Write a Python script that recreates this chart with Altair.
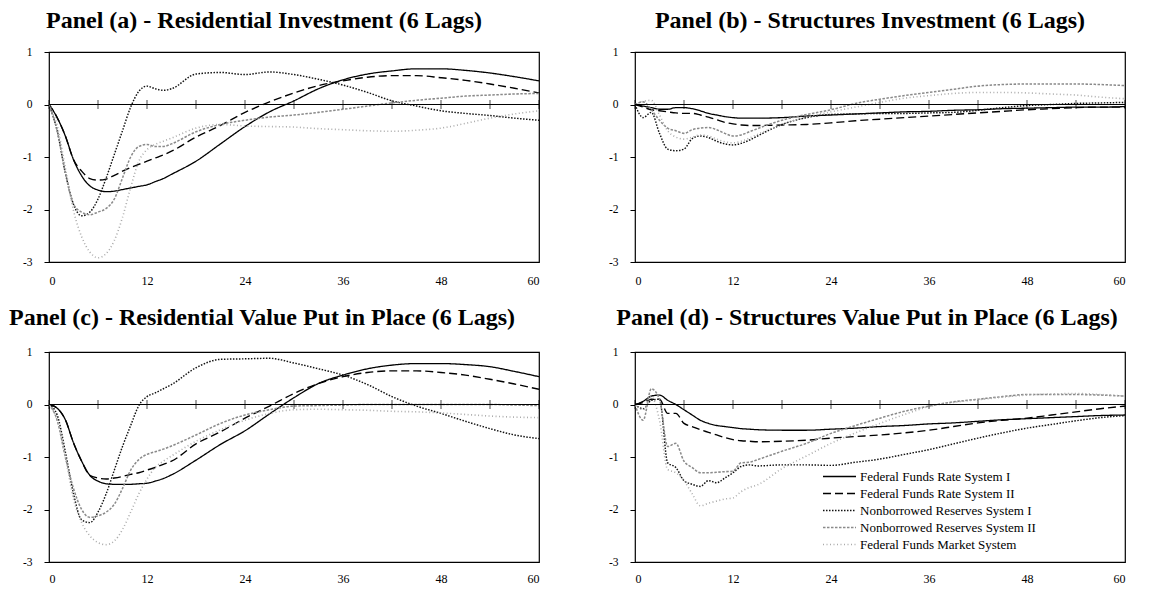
import altair as alt
import pandas as pd

LAGS = [0, 1, 2, 3, 4, 5, 6, 7, 8, 9, 10, 11, 12, 13, 14, 15,
        18, 21, 24, 27, 30, 33, 36, 39, 42, 45, 48, 51, 54, 57, 60]

SERIES = [
    "Federal Funds Rate System I",
    "Federal Funds Rate System II",
    "Nonborrowed Reserves System I",
    "Nonborrowed Reserves System II",
    "Federal Funds Market System",
]

TITLES = [
    "Panel (a) - Residential Investment (6 Lags)",
    "Panel (b) - Structures Investment (6 Lags)",
    "Panel (c) - Residential Value Put in Place (6 Lags)",
    "Panel (d) - Structures Value Put in Place (6 Lags)",
]

TICK_LAGS = [0, 6, 12, 18, 24, 30, 36, 42, 48, 54, 60]
LABEL_LAGS = [0, 12, 24, 36, 48, 60]
Y_TICKS = [-3, -2, -1, 0, 1]

# Panel (a) - Residential Investment
A_FFR1 = [0, -0.25, -0.6, -1.05, -1.36, -1.55, -1.63, -1.66, -1.65, -1.62, -1.59, -1.56, -1.53, -1.47, -1.41, -1.33,
          -1.08, -0.75, -0.42, -0.14, 0.07, 0.3, 0.47, 0.58, 0.64, 0.68, 0.68, 0.65, 0.6, 0.53, 0.45]
A_FFR2 = [0, -0.25, -0.6, -1.05, -1.27, -1.41, -1.44, -1.42, -1.35, -1.27, -1.2, -1.14, -1.08, -1.02, -0.96, -0.89,
          -0.62, -0.4, -0.15, 0.05, 0.22, 0.36, 0.45, 0.52, 0.55, 0.55, 0.51, 0.46, 0.39, 0.31, 0.22]
A_NBR1 = [0, -0.5, -1.3, -1.9, -2.12, -2.05, -1.8, -1.4, -0.95, -0.5, -0.05, 0.25, 0.35, 0.3, 0.27, 0.3,
          0.58, 0.61, 0.57, 0.62, 0.57, 0.48, 0.37, 0.23, 0.07, -0.03, -0.12, -0.17, -0.21, -0.26, -0.3]
A_NBR2 = [0, -0.5, -1.3, -1.9, -2.05, -2.1, -2.05, -1.98, -1.8, -1.4, -1.0, -0.8, -0.76, -0.8, -0.8, -0.75,
          -0.52, -0.38, -0.3, -0.24, -0.2, -0.15, -0.09, -0.03, 0.03, 0.08, 0.12, 0.16, 0.18, 0.2, 0.21]
A_FFM = [0, -0.4, -1.2, -2.02, -2.52, -2.81, -2.92, -2.84, -2.59, -2.15, -1.58, -1.08, -0.86, -0.76, -0.7, -0.64,
         -0.45, -0.38, -0.41, -0.42, -0.43, -0.46, -0.48, -0.5, -0.51, -0.49, -0.45, -0.36, -0.26, -0.18, -0.12]

# Panel (b) - Structures Investment
B_FFR1 = [0, -0.03, -0.06, -0.09, -0.09, -0.06, -0.06, -0.08, -0.12, -0.17, -0.2, -0.23, -0.25, -0.26, -0.26, -0.26,
          -0.25, -0.22, -0.2, -0.18, -0.16, -0.14, -0.13, -0.11, -0.1, -0.08, -0.07, -0.06, -0.05, -0.05, -0.04]
B_FFR2 = [0, -0.05, -0.1, -0.12, -0.14, -0.16, -0.17, -0.17, -0.2, -0.24, -0.29, -0.34, -0.37, -0.39, -0.4, -0.4,
          -0.39, -0.38, -0.35, -0.31, -0.28, -0.25, -0.22, -0.19, -0.16, -0.13, -0.1, -0.08, -0.06, -0.05, -0.05]
B_NBR1 = [0, -0.25, -0.15, -0.55, -0.85, -0.88, -0.85, -0.65, -0.6, -0.63, -0.7, -0.75, -0.77, -0.74, -0.68, -0.6,
          -0.38, -0.25, -0.19, -0.18, -0.17, -0.17, -0.16, -0.15, -0.11, -0.06, -0.02, 0.0, 0.02, 0.03, 0.04]
B_NBR2 = [0, 0.05, -0.1, -0.3, -0.45, -0.5, -0.55, -0.48, -0.45, -0.44, -0.48, -0.55, -0.6, -0.58, -0.52, -0.46,
          -0.3, -0.19, -0.1, 0.02, 0.1, 0.17, 0.23, 0.29, 0.35, 0.38, 0.39, 0.39, 0.39, 0.38, 0.36]
B_FFM = [0, 0.06, 0.08, -0.2, -0.5, -0.62, -0.66, -0.62, -0.58, -0.6, -0.66, -0.71, -0.73, -0.7, -0.64, -0.57,
         -0.38, -0.24, -0.14, -0.05, 0.04, 0.12, 0.17, 0.21, 0.23, 0.23, 0.22, 0.2, 0.18, 0.14, 0.11]

# Panel (c) - Residential Value Put in Place
C_FFR1 = [0, -0.07, -0.29, -0.73, -1.08, -1.35, -1.46, -1.51, -1.52, -1.52, -1.52, -1.51, -1.5, -1.46, -1.41, -1.34,
          -1.06, -0.76, -0.5, -0.18, 0.13, 0.4, 0.56, 0.68, 0.75, 0.78, 0.78, 0.76, 0.72, 0.63, 0.53]
C_FFR2 = [0, -0.07, -0.29, -0.73, -1.08, -1.35, -1.4, -1.42, -1.4, -1.37, -1.33, -1.3, -1.25, -1.2, -1.14, -1.08,
          -0.75, -0.52, -0.26, -0.03, 0.21, 0.4, 0.53, 0.61, 0.64, 0.64, 0.61, 0.56, 0.48, 0.39, 0.29]
C_NBR1 = [0, -0.2, -0.9, -1.7, -2.2, -2.25, -2.05, -1.7, -1.25, -0.8, -0.4, -0.02, 0.15, 0.22, 0.3, 0.38,
          0.7, 0.86, 0.87, 0.88, 0.79, 0.68, 0.56, 0.38, 0.15, -0.03, -0.17, -0.32, -0.46, -0.58, -0.65]
C_NBR2 = [0, -0.3, -1.0, -1.6, -2.0, -2.15, -2.12, -2.05, -1.9, -1.6, -1.25, -1.05, -0.95, -0.9, -0.85, -0.79,
          -0.58, -0.36, -0.2, -0.1, -0.03, -0.02, -0.01, 0.0, 0.0, 0.0, 0.0, 0.0, 0.0, -0.01, -0.02]
C_FFM = [0, -0.3, -1.0, -1.8, -2.25, -2.5, -2.63, -2.67, -2.6, -2.38, -2.05, -1.7, -1.42, -1.2, -1.08, -0.98,
         -0.7, -0.48, -0.3, -0.17, -0.1, -0.09, -0.1, -0.11, -0.13, -0.14, -0.16, -0.19, -0.22, -0.24, -0.25]

# Panel (d) - Structures Value Put in Place
D_FFR1 = [0, 0.06, 0.16, 0.18, 0.08, 0.0, -0.1, -0.2, -0.3, -0.36, -0.4, -0.42, -0.44, -0.46, -0.47, -0.48,
          -0.49, -0.49, -0.47, -0.45, -0.42, -0.4, -0.37, -0.35, -0.32, -0.29, -0.27, -0.25, -0.23, -0.21, -0.2]
D_FFR2 = [0, 0.04, 0.1, 0.1, -0.17, -0.17, -0.36, -0.42, -0.48, -0.53, -0.58, -0.63, -0.67, -0.69, -0.7, -0.71,
          -0.7, -0.68, -0.64, -0.61, -0.58, -0.54, -0.49, -0.42, -0.35, -0.3, -0.26, -0.2, -0.14, -0.08, -0.03]
D_NBR1 = [0, -0.08, 0.08, 0.1, -1.11, -1.2, -1.45, -1.52, -1.56, -1.45, -1.49, -1.4, -1.3, -1.18, -1.15, -1.17,
          -1.15, -1.15, -1.16, -1.1, -1.04, -0.95, -0.86, -0.75, -0.64, -0.54, -0.45, -0.38, -0.31, -0.25, -0.21]
D_NBR2 = [0, -0.3, 0.3, 0.1, -0.8, -0.74, -1.08, -1.2, -1.3, -1.3, -1.29, -1.28, -1.27, -1.11, -1.1, -1.05,
          -0.89, -0.74, -0.55, -0.4, -0.26, -0.13, -0.03, 0.05, 0.1, 0.15, 0.19, 0.19, 0.19, 0.18, 0.16]
D_FFM = [0, -0.1, 0.15, -0.3, -1.24, -1.3, -1.45, -1.7, -1.93, -1.88, -1.84, -1.8, -1.78, -1.66, -1.58, -1.53,
         -1.22, -0.98, -0.74, -0.54, -0.36, -0.19, -0.04, 0.04, 0.09, 0.14, 0.18, 0.2, 0.21, 0.19, 0.16]

PANEL_DATA = [
    [A_FFR1, A_FFR2, A_NBR1, A_NBR2, A_FFM],
    [B_FFR1, B_FFR2, B_NBR1, B_NBR2, B_FFM],
    [C_FFR1, C_FFR2, C_NBR1, C_NBR2, C_FFM],
    [D_FFR1, D_FFR2, D_NBR1, D_NBR2, D_FFM],
]

COLORS = ["#000000", "#000000", "#111111", "#8a8a8a", "#ababab"]
DASHES = [[1, 0], [8, 4], [1.5, 1.5], [2.5, 1.5], [1, 2.5]]
WIDTHS = [1.3, 1.6, 1.1, 1.0, 1.1]

FONT = "Liberation Serif"
PW, PH = 490, 210
TITLE_DX = [-30, -10, -32, -13]
TITLE_OFFSET = [13, 13, 16, 16]
XLABEL_PAD = [13, 13, 11, 11]


def panel(idx, show_legend):
    rows = []
    for name, vals in zip(SERIES, PANEL_DATA[idx]):
        for lag, v in zip(LAGS, vals):
            rows.append({"series": name, "lag": lag, "value": v})
    df = pd.DataFrame(rows)

    xscale = alt.Scale(domain=[0, 60], nice=False, zero=False)
    yscale = alt.Scale(domain=[-3, 1], nice=False, zero=False)

    x_axis = alt.Axis(values=LABEL_LAGS, ticks=False, tickSize=0, domain=False, grid=False,
                      labelPadding=XLABEL_PAD[idx], labelFont=FONT, labelFontSize=12,
                      labelColor="black", title=None)
    y_axis = alt.Axis(values=Y_TICKS, ticks=True, tickSize=5, tickColor="black", domain=False, grid=False,
                      labelExpr="'' + datum.value",
                      labelPadding=12, labelFont=FONT, labelFontSize=11.5, labelColor="black", title=None)

    if show_legend:
        leg = alt.Legend(orient="none", legendX=187, legendY=116, title=None, symbolType="stroke",
                         symbolSize=1089, clipHeight=17, labelFont=FONT, labelFontSize=13,
                         labelColor="black", labelOffset=3, padding=0, rowPadding=0, labelLimit=0)
    else:
        leg = None

    lines = alt.Chart(df).mark_line(interpolate="monotone", clip=True).encode(
        x=alt.X("lag:Q", scale=xscale, axis=x_axis),
        y=alt.Y("value:Q", scale=yscale, axis=y_axis),
        color=alt.Color("series:N", scale=alt.Scale(domain=SERIES, range=COLORS), legend=leg),
        strokeDash=alt.StrokeDash("series:N", scale=alt.Scale(domain=SERIES, range=DASHES), legend=leg),
        strokeWidth=alt.StrokeWidth("series:N", scale=alt.Scale(domain=SERIES, range=WIDTHS), legend=leg),
    )

    zero = alt.Chart(pd.DataFrame({"value": [0]})).mark_rule(color="black", strokeWidth=1.2).encode(
        y=alt.Y("value:Q", scale=yscale)
    )
    ticks = alt.Chart(pd.DataFrame({"lag": TICK_LAGS, "value": [0] * len(TICK_LAGS)})).mark_tick(
        orient="vertical", size=9, thickness=1, color="black"
    ).encode(
        x=alt.X("lag:Q", scale=xscale),
        y=alt.Y("value:Q", scale=yscale),
    )

    return alt.layer(lines, zero, ticks).properties(
        width=PW, height=PH,
        title=alt.TitleParams(TITLES[idx], font=FONT, fontSize=24, fontWeight="bold", color="black",
                              anchor="middle", frame="group", dx=TITLE_DX[idx], offset=TITLE_OFFSET[idx]),
    )


indep = dict(color="independent", strokeDash="independent", strokeWidth="independent")

chart = alt.concat(
    panel(0, False), panel(1, False), panel(2, False), panel(3, True),
    columns=2, spacing=alt.RowColnumber(row=90, column=96), bounds="flush",
).resolve_scale(**indep).resolve_legend(**indep).properties(padding=0).configure_view(
    stroke="black", strokeWidth=1.2
)

chart.save("out.html", embed_options={"renderer": "svg", "actions": False})
